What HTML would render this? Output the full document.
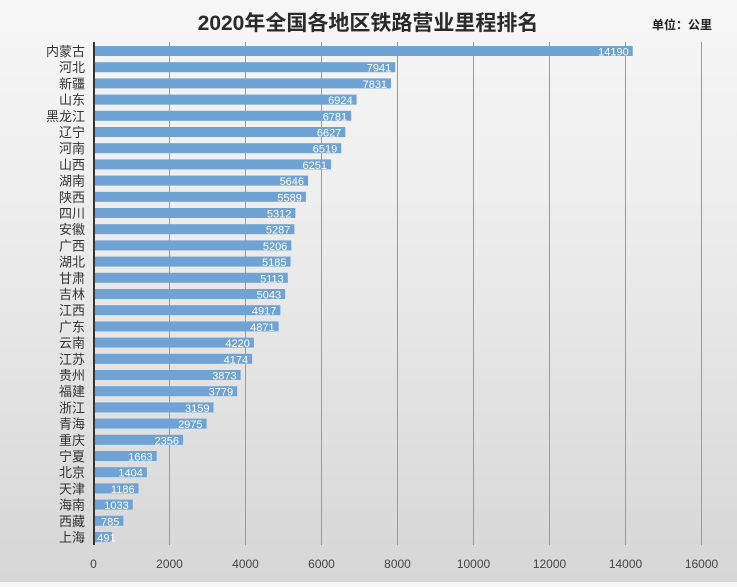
<!DOCTYPE html>
<html><head><meta charset="utf-8"><style>
body{margin:0;width:737px;height:582px;overflow:hidden;background:linear-gradient(#f7f7f7,#ececec 40%,#d6d6d6);font-family:"Liberation Sans","Noto Sans CJK SC",sans-serif}
</style></head><body>
<svg id="c" width="737" height="582"></svg>
<script>
const categories=["内蒙古","河北","新疆","山东","黑龙江","辽宁","河南","山西","湖南","陕西","四川","安徽","广西","湖北","甘肃","吉林","江西","广东","云南","江苏","贵州","福建","浙江","青海","重庆","宁夏","北京","天津","海南","西藏","上海"];
const values=[14190,7941,7831,6924,6781,6627,6519,6251,5646,5589,5312,5287,5206,5185,5113,5043,4917,4871,4220,4174,3873,3779,3159,2975,2356,1663,1404,1186,1033,785,491];
const ticks=[0,2000,4000,6000,8000,10000,12000,14000,16000];
const NS="http://www.w3.org/2000/svg",svg=document.getElementById('c');
const x=v=>93.5+v*76/2000, y=i=>51+i*16.2;
function mk(t,a,txt){const e=document.createElementNS(NS,t);for(const k in a)e.setAttribute(k,a[k]);if(txt!=null)e.textContent=txt;svg.appendChild(e);return e;}
let e=mk('text',{x:368,y:30,'text-anchor':'middle','font-size':21,'font-weight':'bold',fill:'#2a2a2a'},'2020年全国各地区铁路营业里程排名');

e=mk('text',{x:712,y:29,'text-anchor':'end','font-size':12,'font-weight':'bold',fill:'#222'},'单位：公里');

ticks.forEach(t=>{
 if(t>0){const g=mk('line',{x1:x(t),x2:x(t),y1:42,y2:545,stroke:'#999','stroke-width':1});
 }
 const l=mk('text',{x:x(t),y:568,'text-anchor':'middle','font-size':12,fill:'#444'},t);
 
});
categories.forEach((c,i)=>{
 const b=mk('rect',{x:95,y:y(i)-5,width:x(values[i])-95,height:10,fill:'#6fa3d6'});
 
 const s=String(values[i]);const w=s.length*6.2;
 const vx=Math.max(x(values[i])-4,97+w);
 const v=mk('text',{x:vx,y:y(i)+4.5,'text-anchor':'end','font-size':11,fill:'#fff'},s);
 
 const l=mk('text',{x:85,y:y(i)+5,'text-anchor':'end','font-size':13,fill:'#333'},c);
 
});
e=mk('line',{x1:94,x2:94,y1:42,y2:545,stroke:'#333','stroke-width':2});

</script>
</body></html>
